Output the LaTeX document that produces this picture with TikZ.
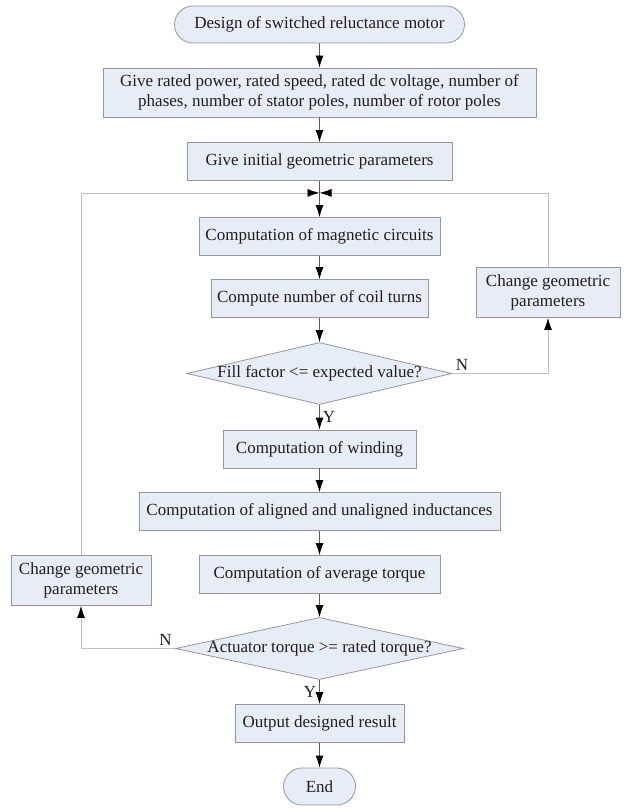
\documentclass[tikz,border=0pt]{standalone}
\usepackage{fontspec}
\setmainfont{Liberation Serif}
\usetikzlibrary{shapes.geometric,shapes.misc,arrows.meta,positioning,calc}

\definecolor{boxFill}{RGB}{231,237,247}
\definecolor{boxLine}{RGB}{150,150,150}
\definecolor{loopLine}{RGB}{190,190,190}
\definecolor{flowLine}{RGB}{90,90,90}
\definecolor{inkText}{RGB}{30,30,30}

\begin{document}
\begin{tikzpicture}[>={Latex[length=12pt,width=8pt,color=black]}]

\tikzstyle{process} = [draw=boxLine, fill=boxFill, rectangle, line width=0.8pt, minimum height=38pt, inner sep=0pt, node distance=69pt, text=inkText, align=center, font={\fontsize{17}{20}\selectfont}]
\tikzstyle{terminal} = [process, rounded rectangle, minimum height=37pt]
\tikzstyle{decision} = [process, diamond, aspect=4.3, inner xsep=-40pt, inner ysep=0pt, minimum height=62pt]
\tikzstyle{flowEdge} = [flowLine, line width=0.8pt, ->]
\tikzstyle{loopEdge} = [loopLine, line width=0.8pt, ->]
\tikzstyle{edgeLabel} = [inner sep=3pt, text=inkText, font={\fontsize{17}{20}\selectfont}]

\useasboundingbox (0,0) rectangle (628pt,-811pt);

\node[terminal, name=start, minimum width=290pt] at (319.5pt,-24.5pt) {Design of switched reluctance motor};
\node[process, name=ratings, below of=start, yshift=1pt, minimum width=433pt, minimum height=49pt] {Give rated power, rated speed, rated dc voltage, number of\\ phases, number of stator poles, number of rotor poles};
\node[process, name=init, below of=ratings, minimum width=265pt] {Give initial geometric parameters};
\node[process, name=magnetic, below of=init, yshift=-6pt, minimum width=241pt] {Computation of magnetic circuits};
\node[process, name=coil, below of=magnetic, yshift=7pt, minimum width=217pt] {Compute number of coil turns};
\node[decision, name=fill, below of=coil, yshift=-6pt, minimum width=265pt] {Fill factor <= expected value?};
\node[process, name=winding, below of=fill, yshift=-6.5pt, minimum width=193pt] {Computation of winding};
\node[process, name=inductance, below of=winding, yshift=6.5pt, minimum width=361pt] {Computation of aligned and unaligned inductances};
\node[process, name=torque, below of=inductance, yshift=6pt, minimum width=241pt] {Computation of average torque};
\node[decision, name=actuator, below of=torque, yshift=-5pt, minimum width=288pt] {Actuator torque >= rated torque?};
\node[process, name=output, below of=actuator, yshift=-6pt, minimum width=169pt] {Output designed result};
\node[terminal, name=finish, below of=output, yshift=6pt, minimum width=72pt] {End};
\node[process, name=changeRight, right of=coil, xshift=159.5pt, yshift=6pt, minimum width=144pt, minimum height=50pt] {Change geometric\\ parameters};
\node[process, name=changeLeft, left of=torque, xshift=-169.5pt, yshift=-6pt, minimum width=140pt, minimum height=50pt] {Change geometric\\ parameters};

\coordinate (merge) at ($(init.south)+(0,-12pt)$);

\draw (start) edge[flowEdge] (ratings);
\draw (ratings) edge[flowEdge] (init);
\draw (init) edge[flowEdge] (magnetic);
\draw (magnetic) edge[flowEdge] (coil);
\draw (coil) edge[flowEdge] (fill);
\draw (fill) edge[flowEdge] node[edgeLabel, right] {Y} (winding);
\draw (winding) edge[flowEdge] (inductance);
\draw (inductance) edge[flowEdge] (torque);
\draw (torque) edge[flowEdge] (actuator);
\draw (actuator) edge[flowEdge] node[edgeLabel, left] {Y} (output);
\draw (output) edge[flowEdge] (finish);

% feedback loops
\draw[loopEdge] (fill.east) node[edgeLabel, above right] {N} -| (changeRight.south);
\draw[loopEdge] (changeRight.north) |- (merge);
\draw[loopEdge] (actuator.west) node[edgeLabel, above left] {N} -| (changeLeft.south);
\draw[loopEdge] (changeLeft.north) |- (merge);
\end{tikzpicture}
\end{document}
